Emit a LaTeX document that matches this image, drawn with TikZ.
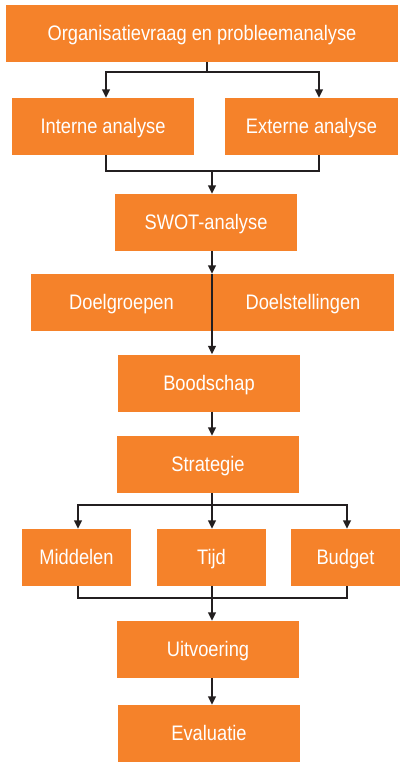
\documentclass[tikz,border=0pt]{standalone}
\usepackage{fontspec}
\setmainfont{Liberation Sans}[FakeStretch=0.87]
\usetikzlibrary{arrows.meta}
\definecolor{boxorange}{HTML}{F5822A}
\definecolor{arrowink}{HTML}{231F20}
\begin{document}
\begin{tikzpicture}[x=1pt,y=-1pt,
  box/.style={fill=boxorange, text=white, inner sep=0pt, minimum height=57pt,
    text height=14pt, text depth=0pt,
    font=\fontsize{21}{24}\selectfont},
  conn/.style={draw=arrowink, line width=1.5pt},
  arr/.style={conn, -{Triangle[length=8.5pt,width=8pt]}}]
\useasboundingbox (0,0) rectangle (399,762);
% boxes
\node[box, minimum width=392pt] (top) at (202,33.5) {Organisatievraag en probleemanalyse};
\node[box, minimum width=182pt] (interne) at (103,126.5) {Interne analyse};
\node[box, minimum width=173pt] (externe) at (311.5,126.5) {Externe analyse};
\node[box, minimum width=182pt] (swot) at (206,222.5) {SWOT-analyse};
\node[box, minimum width=181pt] (doelgroepen) at (121.5,302.5) {Doelgroepen};
\node[box, minimum width=182pt] (doelstellingen) at (303,302.5) {Doelstellingen};
\node[box, minimum width=182pt] (boodschap) at (209,383) {Boodschap};
\node[box, minimum width=182pt] (strategie) at (208,464.5) {Strategie};
\node[box, minimum width=109pt] (middelen) at (76.5,557.5) {Middelen};
\node[box, minimum width=109pt] (tijd) at (211.5,557.5) {Tijd};
\node[box, minimum width=109pt] (budget) at (345.5,557.5) {Budget};
\node[box, minimum width=182pt] (uitvoering) at (208,649.5) {Uitvoering};
\node[box, minimum width=182pt] (evaluatie) at (209,733.5) {Evaluatie};
% junction coordinates
\coordinate (j1) at (207,72);
\coordinate (a1) at (106,72);
\coordinate (a2) at (319,72);
\coordinate (b1) at (106,171);
\coordinate (b2) at (319,171);
\coordinate (s) at (212,171);
\coordinate (c0) at (212,505);
\coordinate (c1) at (78,505);
\coordinate (c3) at (347,505);
\coordinate (d0) at (212,598);
\coordinate (d1) at (78,598);
\coordinate (d3) at (347,598);
% connectors
\draw[conn] (top.south -| j1) -- (j1);
\draw[arr] (j1) -- (a1) -- (a1 |- interne.north);
\draw[arr] (j1) -- (a2) -- (a2 |- externe.north);
\draw[conn] (b1 |- interne.south) -- (b1) -- (b2) -- (b2 |- externe.south);
\draw[arr] (s) -- (s |- swot.north);
\draw[arr] (s |- swot.south) -- (s |- doelgroepen.north);
\draw[arr] (s |- doelgroepen.north) -- (s |- boodschap.north);
\draw[arr] (s |- boodschap.south) -- (s |- strategie.north);
\draw[conn] (s |- strategie.south) -- (c0);
\draw[arr] (c0) -- (c1) -- (c1 |- middelen.north);
\draw[arr] (c0) -- (c3) -- (c3 |- budget.north);
\draw[arr] (c0) -- (c0 |- tijd.north);
\draw[conn] (d1 |- middelen.south) -- (d1) -- (d3) -- (d3 |- budget.south);
\draw[conn] (d0 |- tijd.south) -- (d0);
\draw[arr] (d0) -- (d0 |- uitvoering.north);
\draw[arr] (s |- uitvoering.south) -- (s |- evaluatie.north);
\end{tikzpicture}
\end{document}
